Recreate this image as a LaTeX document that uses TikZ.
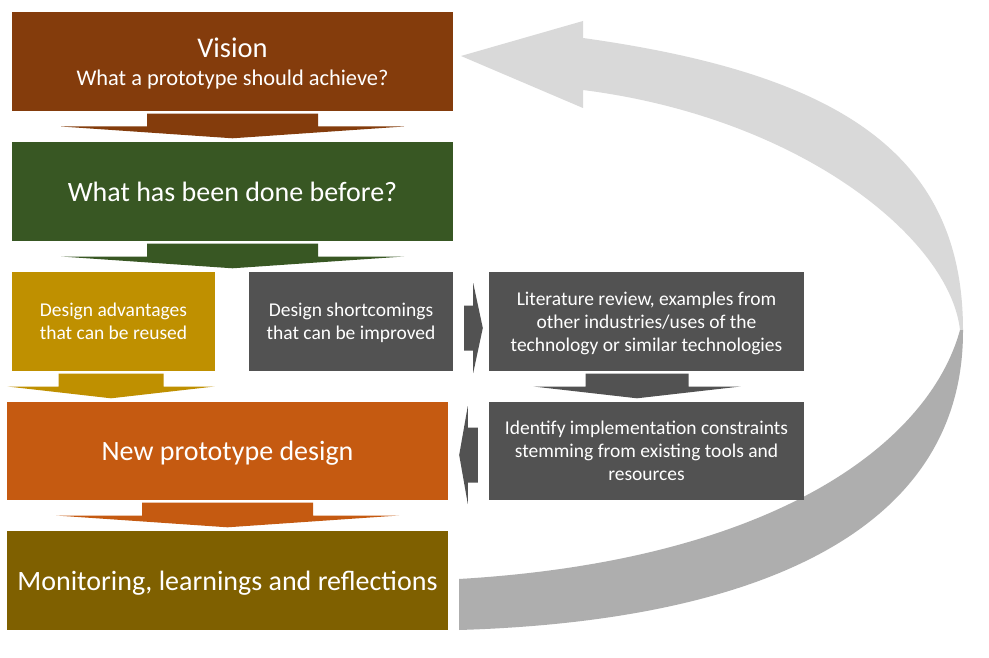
\documentclass[tikz,border=0pt]{standalone}
\usepackage{fontspec}
\setmainfont{Carlito}
\usetikzlibrary{calc}

\definecolor{visionc}{HTML}{843C0C}
\definecolor{donec}{HTML}{385723}
\definecolor{advc}{HTML}{BF9000}
\definecolor{greyc}{HTML}{525252}
\definecolor{newc}{HTML}{C55A11}
\definecolor{monc}{HTML}{7F6000}
\definecolor{ribbonlightc}{HTML}{D9D9D9}
\definecolor{ribbondarkc}{HTML}{AEAEAE}

\tikzset{
  box/.style={rectangle, inner sep=0pt, text=white, align=center, text depth=0pt},
  bigtext/.style={font=\fontsize{28}{33}\selectfont},
  smalltext/.style={font=\fontsize{19.5}{23}\selectfont},
  ribbonlight/.style={fill=ribbonlightc},
  ribbondark/.style={fill=ribbondarkc},
}

% downward block arrow: from, to, centre x, shaft half width, head half width, style
\newcommand{\blockdown}[6]{%
  \fill[#6] let \p1=(#1.south), \p2=(#2.north) in
    ({#3pt-#4pt},{\y1-2.5pt}) -- ({#3pt+#4pt},{\y1-2.5pt})
    -- ({#3pt+#4pt},{(\y1+\y2)/2}) -- ({#3pt+#5pt},{(\y1+\y2)/2})
    -- ({#3pt},{\y2+3.5pt})
    -- ({#3pt-#5pt},{(\y1+\y2)/2}) -- ({#3pt-#4pt},{(\y1+\y2)/2}) -- cycle;
}
% rightward block arrow: from, to, centre y, shaft half height, head half height, style
\newcommand{\blockright}[6]{%
  \fill[#6] let \p1=(#1.east), \p2=(#2.west) in
    ({\x1+11pt},{-#3pt+#4pt}) -- ({\x1+20pt},{-#3pt+#4pt})
    -- ({\x1+20pt},{-#3pt+#5pt}) -- ({\x2-6pt},{-#3pt})
    -- ({\x1+20pt},{-#3pt-#5pt}) -- ({\x1+20pt},{-#3pt-#4pt})
    -- ({\x1+11pt},{-#3pt-#4pt}) -- cycle;
}
% leftward block arrow: from, to, centre y, shaft half height, head half height, style
\newcommand{\blockleft}[6]{%
  \fill[#6] let \p1=(#1.west), \p2=(#2.east) in
    ({\x1-11pt},{-#3pt+#4pt}) -- ({\x1-21pt},{-#3pt+#4pt})
    -- ({\x1-21pt},{-#3pt+#5pt}) -- ({\x2+11pt},{-#3pt})
    -- ({\x1-21pt},{-#3pt-#5pt}) -- ({\x1-21pt},{-#3pt-#4pt})
    -- ({\x1-11pt},{-#3pt-#4pt}) -- cycle;
}

\begin{document}
\begin{tikzpicture}[x=1pt, y=-1pt]
  \useasboundingbox (0,0) rectangle (989,658);
  \fill[white] (0,0) rectangle (989,658);

  % feedback ribbon: light upper half with the arrow head
  \fill[ribbonlight] (583,38) .. controls (833,73) and (963,150) .. (963,330)
    -- (960,330) .. controls (950,240) and (803,118) .. (583,90)
    -- (583,108) -- (461,56) -- (583,21) -- cycle;
  % darker lower half of the ribbon
  \fill[ribbondark] (963,330) .. controls (964,530) and (759,621) .. (459,630)
    -- (459,579) .. controls (780,560) and (930,440) .. (960,330) -- cycle;

  % boxes
  \node[box, font=\fontsize{22.4}{28}\selectfont, fill=visionc, minimum width=441pt, minimum height=99pt] (vision) at (232.5,61.5)
    {{\fontsize{28.5}{28}\selectfont Vision}\\What a prototype should achieve?};
  \node[box, bigtext, fill=donec, minimum width=441pt, minimum height=99pt] (done) at (232.5,191.5)
    {What has been done before?};
  \node[box, smalltext, fill=advc, minimum width=203pt, minimum height=99pt] (adv) at (113.5,321.5)
    {Design advantages\\that can be reused};
  \node[box, smalltext, fill=greyc, minimum width=204pt, minimum height=99pt] (short) at (351,321.5)
    {Design shortcomings\\that can be improved};
  \node[box, smalltext, fill=greyc, minimum width=315pt, minimum height=99pt] (lit) at (646.5,321.5)
    {Literature review, examples from\\other industries/uses of the\\technology or similar technologies};
  \node[box, smalltext, fill=greyc, minimum width=315pt, minimum height=98pt] (ident) at (646.5,451)
    {Identify implementation constraints\\stemming from existing tools and\\resources};
  \node[box, bigtext, fill=newc, minimum width=441pt, minimum height=98pt] (newdesign) at (227.5,451)
    {New prototype design};
  \node[box, bigtext, fill=monc, minimum width=441pt, minimum height=99pt] (monitor) at (227.5,580.5)
    {Monitoring, learnings and reflections};

  % block arrows between boxes
  \blockdown{vision}{done}{232.5}{85.5}{171.5}{visionc}
  \blockdown{done}{adv}{232.5}{85.5}{171.5}{donec}
  \blockdown{adv}{newdesign}{111}{52.5}{103.5}{advc}
  \blockdown{lit}{ident}{637}{51.5}{103.5}{greyc}
  \blockdown{newdesign}{monitor}{227.5}{85.5}{171.5}{newc}
  \blockright{short}{lit}{328}{22.5}{45}{greyc}
  \blockleft{ident}{newdesign}{455}{27.5}{49}{greyc}
\end{tikzpicture}
\end{document}
